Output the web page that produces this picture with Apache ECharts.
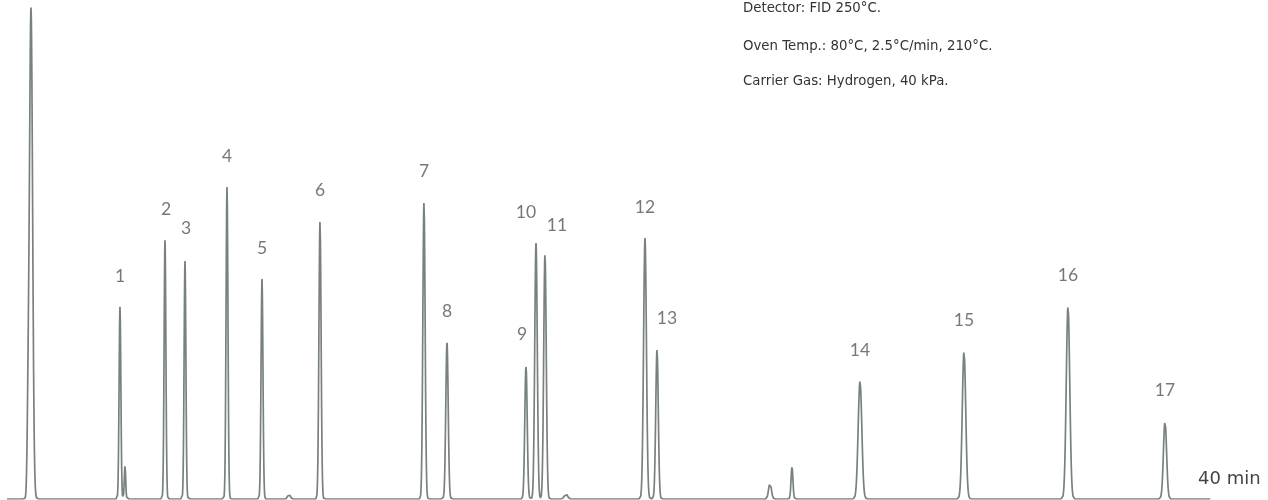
<!DOCTYPE html>
<html>
<head>
<meta charset="utf-8">
<script src="https://cdn.jsdelivr.net/npm/echarts@6/dist/echarts.min.js"></script>
<style>
html,body{margin:0;padding:0;background:#fff;}
#c{width:1268px;height:500px;}
</style>
</head>
<body>
<div id="c"></div>
<script>
// Peak table (retention time in min, height in % of full scale, sigma in min)
var peakNames   = ['', '', '1', '', '2', '3', '4', '5', '', '6', '7', '8', '9', '10', '11', '', '12', '13', '', '', '14', '15', '16', '17'];
var peakTimes   = [0.978, 0.885, 3.785, 3.943, 5.205, 5.836, 7.161, 8.265, 9.117, 10.095, 13.375, 14.101, 16.593, 16.909, 17.192, 17.855, 20.347, 20.726, 24.290, 24.984, 27.129, 30.410, 33.691, 36.751];
var peakHeights = [98.4, 12.5, 38.5, 6.6, 51.9, 47.7, 62.5, 44.1, 1.0, 55.7, 59.5, 31.3, 26.7, 51.3, 49.1, 1.0, 52.3, 29.9, 3.2, 6.4, 23.6, 29.5, 38.7, 15.6];
var peakSigmas  = [0.050, 0.030, 0.028, 0.022, 0.028, 0.028, 0.030, 0.030, 0.040, 0.034, 0.036, 0.038, 0.038, 0.040, 0.040, 0.050, 0.045, 0.040, 0.045, 0.030, 0.058, 0.055, 0.055, 0.050];
var timeRange   = [0.22, 38.2];
var axisMax     = 40;
var notes = ['Detector: FID 250\u00b0C.', 'Oven Temp.: 80\u00b0C, 2.5\u00b0C/min, 210\u00b0C.', 'Carrier Gas: Hydrogen, 40 kPa.'];
var axisUnitLabel = '40 min';

// signal trace built from the peak table
function signalAt(t) {
  var v = 0;
  for (var i = 0; i < peakTimes.length; i++) {
    var d = (t - peakTimes[i]) / peakSigmas[i];
    if (Math.abs(d) < 8) v += peakHeights[i] * Math.exp(-0.5 * d * d);
  }
  return v;
}
var trace = [];
for (var t = timeRange[0]; t <= timeRange[1]; t += 0.008) {
  trace.push([+t.toFixed(4), signalAt(t)]);
}
for (var k = 0; k < peakTimes.length; k++) {
  trace.push([peakTimes[k], signalAt(peakTimes[k])]);
}
trace.sort(function(a, b){ return a[0] - b[0]; });

var labelOffsets = {'9': [-4, 0], '10': [-10, 0], '11': [12, 2], '13': [10, 0], '3': [1, -2], '2': [1, 0]};
var labelPts = [];
for (var m = 0; m < peakNames.length; m++) {
  if (!peakNames[m]) continue;
  labelPts.push({
    value: [peakTimes[m], peakHeights[m]],
    name: peakNames[m],
    label: { offset: labelOffsets[peakNames[m]] || [0, 0] }
  });
}

var chart = echarts.init(document.getElementById('c'));
chart.setOption({
  animation: false,
  grid: { left: 0, right: 0, top: 0, bottom: 1 },
  xAxis: { type: 'value', min: 0, max: axisMax, show: false },
  yAxis: { type: 'value', min: 0, max: 100, show: false },
  series: [
    {
      type: 'line',
      data: trace,
      showSymbol: false,
      smooth: false,
      lineStyle: { color: '#77817d', width: 1.7 },
      z: 2
    },
    {
      type: 'scatter',
      data: labelPts,
      symbolSize: 0,
      label: {
        show: true,
        position: 'top',
        distance: 22,
        formatter: function(p){ return p.name; },
        fontFamily: 'Lato',
        fontSize: 17.5,
        color: '#555555'
      },
      z: 3
    }
  ],
  graphic: [
    { type: 'text', left: 743, top: 2, style: { text: notes[0], font: '13.3px "DejaVu Sans"', fill: '#333' } },
    { type: 'text', left: 743, top: 40, style: { text: notes[1], font: '13.3px "DejaVu Sans"', fill: '#333' } },
    { type: 'text', left: 743, top: 75, style: { text: notes[2], font: '13.3px "DejaVu Sans"', fill: '#333' } },
    { type: 'text', left: 1198, top: 470, style: { text: axisUnitLabel, font: '18px "DejaVu Sans"', fill: '#444' } }
  ]
});
</script>
</body>
</html>
